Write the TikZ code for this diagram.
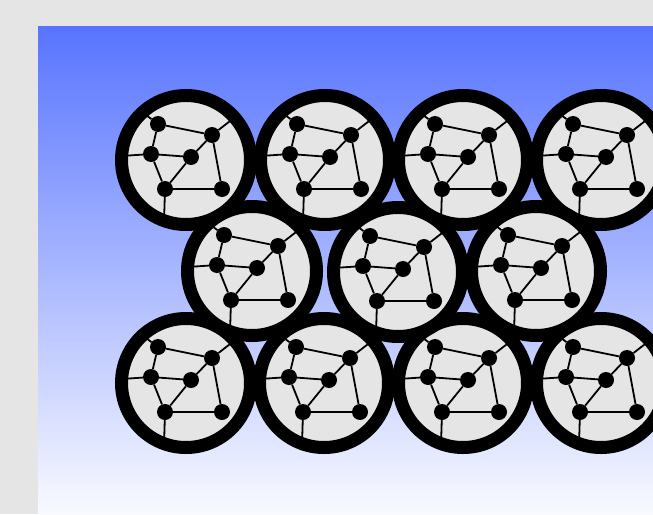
\documentclass[tikz,border=0pt]{standalone}
\begin{document}
\begin{tikzpicture}[x=1pt,y=-1pt,
  dot/.style={circle,fill=black,inner sep=0pt,minimum size=16pt},
  edge/.style={line width=1.8pt,black},
  ring/.style={line width=13pt,black},
  cell/.pic={
    \fill[bggrey] (0,0) circle (62);
    \node[dot] (-a) at (-28,-36) {};
    \node[dot] (-b) at (26,-25) {};
    \node[dot] (-c) at (-35,-6) {};
    \node[dot] (-d) at (5,-3) {};
    \node[dot] (-e) at (-21,29) {};
    \node[dot] (-f) at (36,29) {};
    \coordinate (-ao) at (-44,-48);
    \coordinate (-bo) at (48,-42);
    \coordinate (-co) at (-64,-4);
    \coordinate (-eo) at (-22,62);
    \draw[edge] (-a) -- (-b);
    \draw[edge] (-a) -- (-c);
    \draw[edge] (-c) -- (-d);
    \draw[edge] (-c) -- (-e);
    \draw[edge] (-d) -- (-e);
    \draw[edge] (-b) -- (-d);
    \draw[edge] (-b) -- (-f);
    \draw[edge] (-e) -- (-f);
    \draw[edge] (-a) -- (-ao);
    \draw[edge] (-b) -- (-bo);
    \draw[edge] (-c) -- (-co);
    \draw[edge] (-e) -- (-eo);
    \draw[ring] (0,0) circle (64.5);
  }]
\definecolor{bggrey}{RGB}{229,229,229}
\definecolor{topblue}{RGB}{88,116,255}
\definecolor{botblue}{RGB}{249,250,255}
\useasboundingbox (0,0) rectangle (653,514);
\fill[bggrey] (0,0) rectangle (653,514);
\shade[top color=topblue,bottom color=botblue] (38,26) rectangle (653,514);
\begin{scope}
\clip (0,0) rectangle (653,514);
\pic (r1a) at (186,160) {cell};
\pic (r1b) at (325,160) {cell};
\pic (r1c) at (463,160) {cell};
\pic (r1d) at (601,160) {cell};
\pic (r3a) at (186,383) {cell};
\pic (r3b) at (324,383) {cell};
\pic (r3c) at (463,383) {cell};
\pic (r3d) at (601,383) {cell};
\pic (r2a) at (252,271) {cell};
\pic (r2b) at (398,272) {cell};
\pic (r2c) at (536,271) {cell};
\end{scope}
\end{tikzpicture}
\end{document}
